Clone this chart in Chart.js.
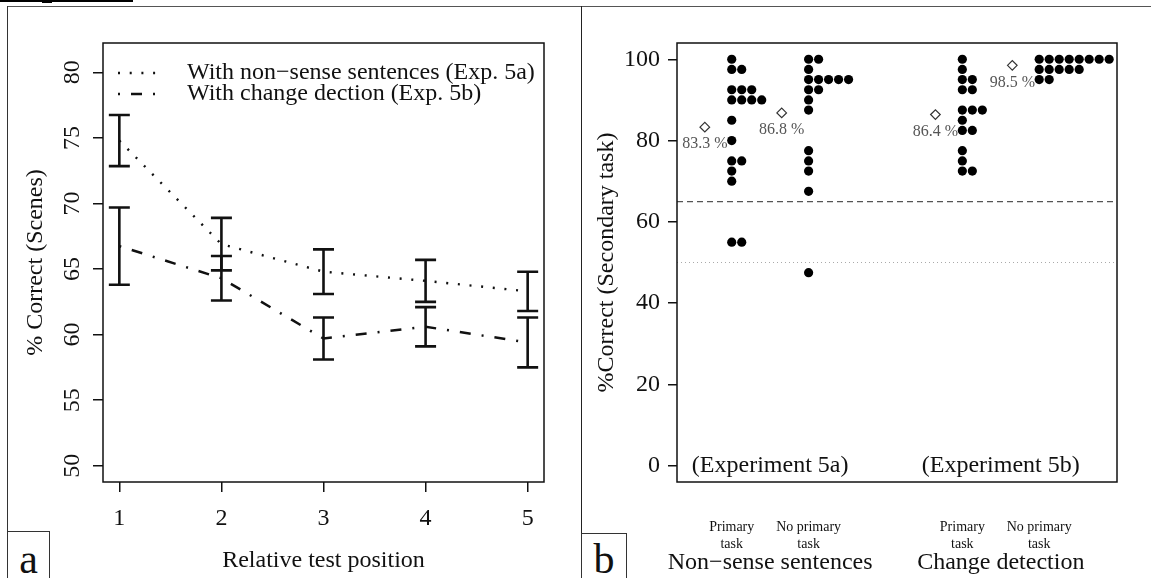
<!DOCTYPE html>
<html>
<head>
<meta charset="utf-8">
<script src="https://cdn.jsdelivr.net/npm/chart.js@4.4.0/dist/chart.umd.min.js"></script>
<style>
  html, body { margin: 0; padding: 0; background: #fff; }
  #page { position: relative; width: 1151px; height: 578px; overflow: hidden; background: #fff; }
  canvas { position: absolute; left: 0; top: 0; }
  .rule { position: absolute; background: #444; }
  .tag { position: absolute; box-sizing: border-box; border: 1px solid #333; border-bottom: none; background: #fff; }
  .tagText { position: absolute; font-family: 'Liberation Serif', serif; font-size: 42px; line-height: 42px; color: #111; text-align: center; }
</style>
</head>
<body>
<div id="page">
  <div class="rule" style="left:0;top:0;width:133px;height:2px;background:#000"></div>
  <div class="rule" style="left:42px;top:2px;width:10px;height:1px;background:#000"></div>
  <div class="rule" style="left:7px;top:6px;width:1144px;height:1px;background:#555"></div>
  <div class="rule" style="left:7px;top:6px;width:1px;height:572px;background:#333"></div>
  <div class="rule" style="left:581px;top:6px;width:1px;height:572px;background:#222"></div>
  <canvas id="sceneChart" width="1151" height="578"></canvas>
  <canvas id="secondaryChart" width="1151" height="578"></canvas>
  <div class="tag" style="left:7px;top:531px;width:43px;height:47px"></div>
  <div class="tagText" style="left:7px;top:538px;width:43px">a</div>
  <div class="tag" style="left:581px;top:533px;width:46px;height:45px"></div>
  <div class="tagText" style="left:581px;top:538px;width:46px">b</div>
</div>
<script>
// Panel a: scene memory by relative test position
const testPositions = [1, 2, 3, 4, 5];
const nonsenseMeans = [74.8, 66.9, 64.8, 64.1, 63.3];
const nonsenseErr = [1.95, 2.0, 1.7, 1.6, 1.5];
const changeMeans = [66.75, 64.3, 59.7, 60.6, 59.4];
const changeErr = [2.95, 1.7, 1.6, 1.5, 1.9];
const sceneTicks = [50, 55, 60, 65, 70, 75, 80];

// Panel b: secondary task accuracy per participant
const groupPositions = [1, 2, 4, 5];
const primary5a = [100, 97.5, 97.5, 92.5, 92.5, 92.5, 90, 90, 90, 90, 85, 80, 75, 75, 72.5, 70, 55, 55];
const noPrimary5a = [100, 100, 97.5, 95, 95, 95, 95, 95, 92.5, 92.5, 90, 87.5, 77.5, 75, 72.5, 67.5, 47.5];
const primary5b = [100, 97.5, 95, 95, 92.5, 92.5, 87.5, 87.5, 87.5, 85, 82.5, 82.5, 77.5, 75, 72.5, 72.5];
const noPrimary5b = [100, 100, 100, 100, 100, 100, 100, 100, 97.5, 97.5, 97.5, 97.5, 97.5, 95, 95];
const groupMeans = [83.3, 86.8, 86.4, 98.5];
const secondaryTicks = [0, 20, 40, 60, 80, 100];
const thresholdLevel = 65;
const chanceLevel = 50;
const conditionLabels = [['Primary', 'task'], ['No primary', 'task'], ['Primary', 'task'], ['No primary', 'task']];
const experimentPositions = [1.5, 4.5];
const experimentLabels = ['(Experiment 5a)', '(Experiment 5b)'];
const taskLabels = ['Non\u2212sense sentences', 'Change detection'];

const serif = "'Liberation Serif', serif";
Chart.defaults.font.family = serif;

// stripchart(method = "stack"): equal values are put side by side
function stackPoints(values, pos) {
    const seen = {};
    return values.map(v => {
        const k = seen[v] || 0;
        seen[v] = k + 1;
        return { x: pos + k * 0.13, y: v };
    });
}

const panelA = {
    id: 'panelA',
    afterDatasetsDraw(chart) {
        const { ctx, chartArea: a, scales: { x, y } } = chart;
        ctx.save();
        ctx.strokeStyle = '#111';
        ctx.lineWidth = 1.5;
        ctx.strokeRect(a.left, a.top, a.right - a.left, a.bottom - a.top);

        // error bars
        ctx.lineWidth = 2.6;
        [[nonsenseMeans, nonsenseErr], [changeMeans, changeErr]].forEach(([m, e]) => {
            testPositions.forEach((p, i) => {
                const px = x.getPixelForValue(p);
                const hi = y.getPixelForValue(m[i] + e[i]);
                const lo = y.getPixelForValue(m[i] - e[i]);
                ctx.beginPath();
                ctx.moveTo(px, hi); ctx.lineTo(px, lo);
                ctx.moveTo(px - 10.5, hi); ctx.lineTo(px + 10.5, hi);
                ctx.moveTo(px - 10.5, lo); ctx.lineTo(px + 10.5, lo);
                ctx.stroke();
            });
        });

        ctx.fillStyle = '#111';
        ctx.font = '24px ' + serif;
        ctx.textAlign = 'center';
        ctx.textBaseline = 'middle';
        sceneTicks.forEach(v => {
            ctx.save();
            ctx.translate(73, y.getPixelForValue(v));
            ctx.rotate(-Math.PI / 2);
            ctx.fillText(String(v), 0, 0);
            ctx.restore();
        });
        testPositions.forEach(v => ctx.fillText(String(v), x.getPixelForValue(v), 519));
        ctx.fillText('Relative test position', (a.left + a.right) / 2, 561);
        ctx.save();
        ctx.translate(36, (a.top + a.bottom) / 2);
        ctx.rotate(-Math.PI / 2);
        ctx.fillText('% Correct (Scenes)', 0, 0);
        ctx.restore();

        // legend
        ctx.textAlign = 'left';
        chart.data.datasets.forEach((ds, i) => {
            const ly = 73 + i * 21;
            ctx.save();
            ctx.strokeStyle = ds.borderColor;
            ctx.lineWidth = ds.borderWidth;
            ctx.setLineDash(ds.borderDash);
            ctx.beginPath();
            ctx.moveTo(118, ly);
            ctx.lineTo(158, ly);
            ctx.stroke();
            ctx.restore();
            ctx.fillText(ds.label, 187, ly);
        });
        ctx.restore();
    }
};

new Chart(document.getElementById('sceneChart').getContext('2d'), {
    type: 'line',
    data: {
        datasets: [{
            label: 'With non\u2212sense sentences (Exp. 5a)',
            data: testPositions.map((p, i) => ({ x: p, y: nonsenseMeans[i] })),
            borderColor: '#111',
            borderWidth: 2.4,
            borderDash: [2, 9.7],
            pointRadius: 0,
            tension: 0,
            fill: false
        }, {
            label: 'With change dection (Exp. 5b)',
            data: testPositions.map((p, i) => ({ x: p, y: changeMeans[i] })),
            borderColor: '#111',
            borderWidth: 2.5,
            borderDash: [2, 11, 11, 11],
            pointRadius: 0,
            tension: 0,
            fill: false
        }]
    },
    options: {
        responsive: false,
        animation: false,
        devicePixelRatio: 1,
        layout: { padding: { left: 0, top: 43, right: 1151 - 544, bottom: 0 } },
        scales: {
            x: {
                type: 'linear',
                min: 0.84,
                max: 5.16,
                afterBuildTicks: s => { s.ticks = testPositions.map(v => ({ value: v })); },
                afterFit: s => { s.height = 96; },
                ticks: { display: false },
                border: { display: false },
                grid: { drawOnChartArea: false, tickLength: 10, color: '#111', lineWidth: 1.5 }
            },
            y: {
                min: 48.76,
                max: 82.24,
                afterBuildTicks: s => { s.ticks = sceneTicks.map(v => ({ value: v })); },
                afterFit: s => { s.width = 103; },
                ticks: { display: false },
                border: { display: false },
                grid: { drawOnChartArea: false, tickLength: 10, color: '#111', lineWidth: 1.5 }
            }
        },
        plugins: {
            legend: { display: false },
            tooltip: { enabled: false }
        }
    },
    plugins: [panelA]
});

const panelB = {
    id: 'panelB',
    beforeDatasetsDraw(chart) {
        const { ctx, chartArea: a, scales: { y } } = chart;
        ctx.save();
        ctx.lineWidth = 1.3;
        ctx.strokeStyle = '#555';
        ctx.setLineDash([6, 4]);
        ctx.beginPath();
        ctx.moveTo(a.left, y.getPixelForValue(thresholdLevel));
        ctx.lineTo(a.right, y.getPixelForValue(thresholdLevel));
        ctx.stroke();
        ctx.strokeStyle = '#aaa';
        ctx.lineWidth = 1;
        ctx.setLineDash([1, 3]);
        ctx.beginPath();
        ctx.moveTo(a.left, y.getPixelForValue(chanceLevel));
        ctx.lineTo(a.right, y.getPixelForValue(chanceLevel));
        ctx.stroke();
        ctx.restore();
    },
    afterDatasetsDraw(chart) {
        const { ctx, chartArea: a, scales: { x, y } } = chart;
        ctx.save();
        ctx.strokeStyle = '#111';
        ctx.lineWidth = 1.5;
        ctx.strokeRect(a.left, a.top, a.right - a.left, a.bottom - a.top);

        // mean labels under the diamonds
        const meta = chart.getDatasetMeta(4);
        ctx.fillStyle = '#555';
        ctx.font = '16px ' + serif;
        ctx.textAlign = 'center';
        ctx.textBaseline = 'middle';
        meta.data.forEach((el, i) => ctx.fillText(groupMeans[i].toFixed(1) + ' %', el.x, el.y + 17));

        ctx.fillStyle = '#111';
        ctx.font = '24px ' + serif;
        ctx.textAlign = 'right';
        secondaryTicks.forEach(v => ctx.fillText(String(v), 660, y.getPixelForValue(v)));
        ctx.textAlign = 'center';
        experimentLabels.forEach((t, i) => ctx.fillText(t, x.getPixelForValue(experimentPositions[i]), y.getPixelForValue(0)));
        taskLabels.forEach((t, i) => ctx.fillText(t, x.getPixelForValue(experimentPositions[i]), 563));
        ctx.save();
        ctx.translate(607, (a.top + a.bottom) / 2);
        ctx.rotate(-Math.PI / 2);
        ctx.fillText('%Correct (Secondary task)', 0, 0);
        ctx.restore();

        ctx.font = '14px ' + serif;
        conditionLabels.forEach((lines, i) => {
            const px = x.getPixelForValue(groupPositions[i]);
            ctx.fillText(lines[0], px, 527);
            ctx.fillText(lines[1], px, 544);
        });
        ctx.restore();
    }
};

const dotStyle = { backgroundColor: '#000', borderColor: '#000', borderWidth: 0, pointRadius: 4.6 };

new Chart(document.getElementById('secondaryChart').getContext('2d'), {
    type: 'scatter',
    data: {
        datasets: [
            { label: 'Primary 5a', data: stackPoints(primary5a, groupPositions[0]), ...dotStyle },
            { label: 'No primary 5a', data: stackPoints(noPrimary5a, groupPositions[1]), ...dotStyle },
            { label: 'Primary 5b', data: stackPoints(primary5b, groupPositions[2]), ...dotStyle },
            { label: 'No primary 5b', data: stackPoints(noPrimary5b, groupPositions[3]), ...dotStyle },
            {
                label: 'Means',
                data: groupPositions.map((p, i) => ({ x: p - 0.35, y: groupMeans[i] })),
                pointStyle: 'rectRot',
                pointRadius: 4.8,
                backgroundColor: '#fff',
                borderColor: '#333',
                borderWidth: 1.2
            }
        ]
    },
    options: {
        responsive: false,
        animation: false,
        devicePixelRatio: 1,
        layout: { padding: { left: 582, top: 43, right: 1151 - 1117, bottom: 96 } },
        scales: {
            x: {
                type: 'linear',
                min: 0.288,
                max: 6.012,
                display: false
            },
            y: {
                min: -4,
                max: 104,
                afterBuildTicks: s => { s.ticks = secondaryTicks.map(v => ({ value: v })); },
                afterFit: s => { s.width = 95; },
                ticks: { display: false },
                border: { display: false },
                grid: { drawOnChartArea: false, tickLength: 9, color: '#111', lineWidth: 1.5 }
            }
        },
        plugins: {
            legend: { display: false },
            tooltip: { enabled: false }
        }
    },
    plugins: [panelB]
});
</script>
</body>
</html>
